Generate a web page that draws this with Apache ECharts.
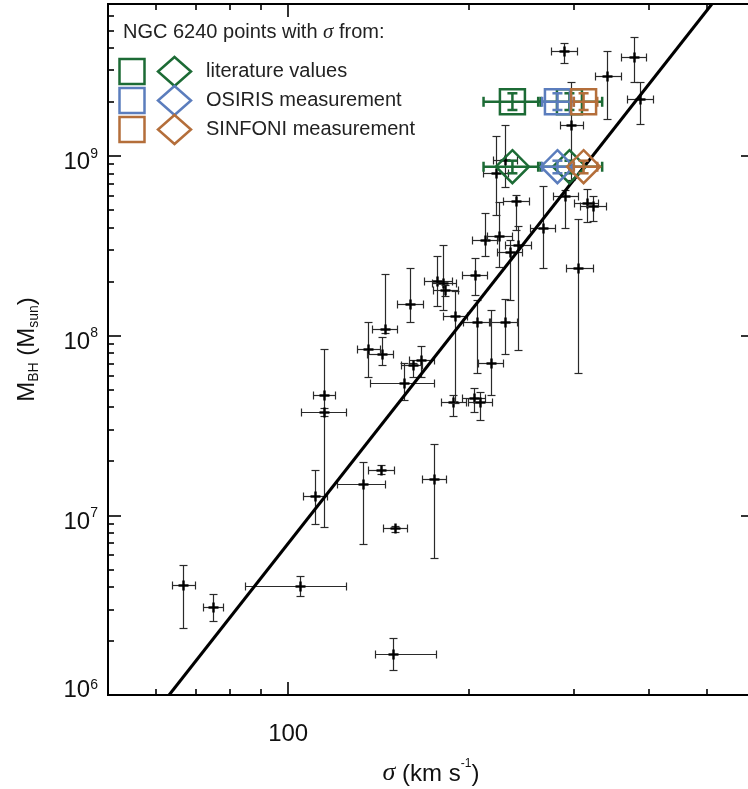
<!DOCTYPE html>
<html>
<head>
<meta charset="utf-8">
<title>M–σ relation with NGC 6240</title>
<script src="https://cdn.jsdelivr.net/npm/echarts@6/dist/echarts.min.js"></script>
<style>
  html, body { margin: 0; padding: 0; background: #fff; }
  #chart { width: 748px; height: 789px; }
</style>
</head>
<body>
<div id="chart"></div>
<script>
// ---- comparison sample: velocity dispersion (km/s) and black-hole mass (Msun), each with its error range
const sigma   = [66.7, 74.9, 104.7, 149.9, 114.9, 114.9, 111.0, 133.4, 143.1, 151.0,
                 175.5, 156.3, 188.8, 204.0, 209.5, 136.0, 145.3, 143.6, 160.0, 166.9,
                 161.8, 177.5, 181.7, 183.1, 190.3, 205.5, 207.0, 218.5, 213.6, 225.4,
                 242.5, 235.1, 229.8, 222.8, 230.6, 240.6, 266.9, 290.5, 316.2, 323.6,
                 305.4, 289.4, 377.5, 341.5, 386.3, 297.3];
const sigmaLo = [64.0, 72.1, 84.7, 139.8, 110.1, 105.1, 106.0, 120.8, 136.0, 144.2,
                 167.5, 137.1, 180.3, 195.4, 200.0, 130.4, 138.2, 135.5, 152.2, 159.3,
                 154.5, 168.8, 174.1, 174.8, 181.7, 195.4, 196.2, 207.8, 203.1, 215.2,
                 230.6, 223.6, 216.9, 211.9, 220.2, 228.9, 253.9, 277.4, 300.8, 307.8,
                 291.6, 275.3, 359.2, 324.9, 368.8, 284.0];
const sigmaHi = [69.9, 77.9, 125.0, 176.8, 119.8, 125.0, 116.2, 145.3, 150.4, 158.1,
                 183.8, 175.5, 198.5, 213.6, 219.4, 142.5, 152.2, 149.9, 168.2, 175.5,
                 167.5, 188.1, 191.0, 192.5, 199.2, 215.2, 217.7, 228.9, 223.6, 236.9,
                 254.9, 246.2, 241.5, 233.3, 241.5, 252.9, 279.5, 305.4, 328.7, 340.2,
                 322.4, 304.2, 395.4, 359.2, 406.1, 311.4];
const mbh     = [4.1e6, 3.09e6, 4.04e6, 1.69e6, 4.67e7, 3.76e7, 1.28e7, 1.49e7, 1.79e7, 8.5e6,
                 1.59e7, 5.45e7, 4.27e7, 4.5e7, 4.27e7, 8.42e7, 1.09e8, 7.9e7, 1.5e8, 7.31e7,
                 6.86e7, 2.01e8, 1.96e8, 1.79e8, 1.29e8, 2.17e8, 1.19e8, 7.04e7, 3.4e8, 3.58e8,
                 3.19e8, 2.92e8, 1.19e8, 8.03e8, 9.49e8, 5.61e8, 3.97e8, 5.98e8, 5.47e8, 5.26e8,
                 2.38e8, 3.83e9, 3.55e9, 2.78e9, 2.07e9, 1.49e9];
const mbhLo   = [2.36e6, 2.58e6, 3.56e6, 1.38e6, 8.61e6, 3.57e7, 8.94e6, 6.92e6, 1.70e7, 8.07e6,
                 5.79e6, 4.38e7, 3.57e7, 3.76e7, 3.39e7, 5.88e7, 1.03e8, 6.86e7, 1.19e8, 5.88e7,
                 5.88e7, 1.46e8, 1.39e8, 1.66e8, 4.22e7, 1.68e8, 6.19e7, 4.67e7, 2.77e8, 2.41e8,
                 8.32e7, 1.58e8, 7.9e7, 4.69e8, 6.71e8, 3.87e8, 2.38e8, 3.97e8, 4.29e8, 4.34e8,
                 6.19e7, 3.29e9, 2.58e9, 1.60e9, 1.50e9, 7.34e8];
const mbhHi   = [5.29e6, 3.65e6, 4.59e6, 2.08e6, 8.42e7, 3.95e7, 1.79e7, 1.98e7, 1.91e7, 8.72e6,
                 2.49e7, 7.04e7, 4.67e7, 5.11e7, 4.85e7, 1.19e8, 2.20e8, 9.82e7, 2.38e8, 8.75e7,
                 7.04e7, 2.77e8, 3.19e8, 1.91e8, 1.77e8, 2.70e8, 1.58e8, 1.39e8, 4.81e8, 5.54e8,
                 4.07e8, 3.4e8, 1.6e8, 1.29e9, 1.49e9, 6.06e8, 6.8e8, 6.46e8, 6.54e8, 5.98e8,
                 4.45e8, 4.25e9, 4.59e9, 3.83e9, 2.58e9, 2.58e9];

// ---- NGC 6240: dispersion estimates by source, and its two mass estimates
const ngcSources  = ['literature', 'literature', 'OSIRIS', 'SINFONI'];
const ngcSigma    = [236.9, 295.0, 281.7, 311.5];
const ngcSigmaLo  = [212.0, 261.6, 265.6, 300.0];
const ngcSigmaHi  = [264.0, 334.6, 300.0, 328.3];
const ngcMass     = [2.0e9, 8.7e8];
const ngcMassLo   = [1.8e9, 8.0e8];
const ngcMassHi   = [2.23e9, 9.4e8];

// ---- legend entries
const legendSources = ['literature', 'OSIRIS', 'SINFONI'];
const legendLabels  = ['literature values', 'OSIRIS measurement', 'SINFONI measurement'];

// ---- M–σ fit: log10(M) = fitA + fitB * log10(σ / fitPivot)
const fitA = 8.12, fitB = 4.24, fitPivot = 200;

// ---- axis ranges and ticks
const sigmaRange  = [50, 600];
const massRange   = [1e6, 7e9];
const xMajorTicks = [100];
const xMinorTicks = [60, 70, 80, 90, 200, 300, 400, 500];
const yMajorTicks = [1e6, 1e7, 1e8, 1e9];
const yMinorTicks = [2e6, 3e6, 4e6, 5e6, 6e6, 7e6, 8e6, 9e6,
                     2e7, 3e7, 4e7, 5e7, 6e7, 7e7, 8e7, 9e7,
                     2e8, 3e8, 4e8, 5e8, 6e8, 7e8, 8e8, 9e8,
                     2e9, 3e9, 4e9, 5e9, 6e9, 7e9];

const FONT  = "'Liberation Sans', Arial, Helvetica, sans-serif";
const SERIF = "'Liberation Serif', 'DejaVu Serif', serif";
const SOURCE_COLORS = { literature: '#1c6b35', OSIRIS: '#5b7dbd', SINFONI: '#b46e3a' };

const chart = echarts.init(document.getElementById('chart'), null, { renderer: 'canvas' });

function xAxisDef(position, ticks, tickLen, labelled) {
  const ax = {
    type: 'log', logBase: 10, min: sigmaRange[0], max: sigmaRange[1], position: position,
    axisLine: { show: true, onZero: false, lineStyle: { color: '#000', width: 2 } },
    axisTick: { show: true, inside: true, length: tickLen, customValues: ticks,
                lineStyle: { color: '#000', width: 1.6 } },
    axisLabel: { show: false },
    splitLine: { show: false }, minorTick: { show: false }, minorSplitLine: { show: false }
  };
  if (labelled) {
    ax.axisLabel = { show: true, customValues: ticks, margin: 27, color: '#111',
                     fontFamily: FONT, fontSize: 24, lineHeight: 24,
                     formatter: v => String(Math.round(v)) };
    ax.name = '{i|σ}{n| (km s}{p|-1}{n|)}';
    ax.nameLocation = 'middle';
    ax.nameGap = 63;
    ax.nameTextStyle = {
      color: '#111', fontFamily: FONT, fontSize: 24,
      rich: {
        i: { fontFamily: SERIF, fontStyle: 'italic', fontSize: 26, lineHeight: 28, verticalAlign: 'bottom', color: '#111' },
        n: { fontFamily: FONT, fontSize: 24, lineHeight: 28, verticalAlign: 'bottom', color: '#111' },
        p: { fontFamily: FONT, fontSize: 12, lineHeight: 14, verticalAlign: 'top', color: '#111' }
      }
    };
  }
  return ax;
}

function yAxisDef(position, ticks, tickLen, labelled) {
  const ax = {
    type: 'log', logBase: 10, min: massRange[0], max: massRange[1], position: position,
    axisLine: { show: true, onZero: false, lineStyle: { color: '#000', width: 2 } },
    axisTick: { show: true, inside: true, length: tickLen, customValues: ticks,
                lineStyle: { color: '#000', width: 1.6 } },
    axisLabel: { show: false },
    splitLine: { show: false }, minorTick: { show: false }, minorSplitLine: { show: false }
  };
  if (labelled) {
    ax.axisLabel = {
      show: true, customValues: ticks, margin: 10, color: '#111', fontFamily: FONT,
      padding: [10, 0, 0, 0],
      formatter: v => {
        const e = Math.round(Math.log10(v));
        return e === 6 ? '{q|\u200a}{b6|10}{s6|' + e + '}' : '{p|\u200a}{b|10}{s|' + e + '}';
      },
      rich: {
        p:  { fontSize: 1, lineHeight: 28 },
        b:  { fontFamily: FONT, fontSize: 24, lineHeight: 20, verticalAlign: 'bottom', color: '#111' },
        s:  { fontFamily: FONT, fontSize: 14, lineHeight: 10, verticalAlign: 'top', color: '#111' },
        q:  { fontSize: 1, lineHeight: 44 },
        b6: { fontFamily: FONT, fontSize: 24, lineHeight: 36, verticalAlign: 'top', color: '#111' },
        s6: { fontFamily: FONT, fontSize: 14, lineHeight: 10, verticalAlign: 'top', color: '#111' }
      }
    };
    ax.name = '{m|M}{b|BH}{m| (M}{b|sun}{m|)}';
    ax.nameLocation = 'middle';
    ax.nameRotate = 90;
    ax.nameGap = 67;
    ax.nameTextStyle = {
      color: '#111', fontFamily: FONT, fontSize: 24,
      rich: {
        m: { fontFamily: FONT, fontSize: 24, lineHeight: 26, verticalAlign: 'top', color: '#111' },
        b: { fontFamily: FONT, fontSize: 14, lineHeight: 14, verticalAlign: 'bottom', color: '#111' }
      }
    };
  }
  return ax;
}

function crisp(v) { return Math.round(v) + 0.5; }
function seg(x1, y1, x2, y2, style) { return { type: 'line', shape: { x1: x1, y1: y1, x2: x2, y2: y2 }, style: style }; }

// black crosses with thin capped error bars
function renderGalaxy(params, api) {
  const s = api.value(0), m = api.value(1);
  const c = api.coord([s, m]);
  const cx = crisp(c[0]), cy = crisp(c[1]);
  const xl = crisp(api.coord([api.value(2), m])[0]);
  const xh = crisp(api.coord([api.value(3), m])[0]);
  const yl = crisp(api.coord([s, api.value(4)])[1]);
  const yh = crisp(api.coord([s, api.value(5)])[1]);
  const thin = { stroke: '#2a2a2a', lineWidth: 1.2 };
  const bold = { stroke: '#000', lineWidth: 2.4 };
  const cap = 4, arm = 5;
  return { type: 'group', children: [
    seg(xl, cy, xh, cy, thin), seg(xl, cy - cap, xl, cy + cap, thin), seg(xh, cy - cap, xh, cy + cap, thin),
    seg(cx, yl, cx, yh, thin), seg(cx - cap, yl, cx + cap, yl, thin), seg(cx - cap, yh, cx + cap, yh, thin),
    seg(cx - arm, cy, cx + arm, cy, bold), seg(cx, cy - arm, cx, cy + arm, bold)
  ]};
}

// NGC 6240: coloured square or diamond with capped error bars
function ngcRenderer(shape) {
  return function (params, api) {
    const s = api.value(0), m = api.value(1);
    const c = api.coord([s, m]);
    const cx = c[0], cy = c[1];
    const xl = api.coord([api.value(2), m])[0];
    const xh = api.coord([api.value(3), m])[0];
    const yl = api.coord([s, api.value(4)])[1];
    const yh = api.coord([s, api.value(5)])[1];
    const color = SOURCE_COLORS[ngcSources[api.value(6)]];
    const st = { stroke: color, lineWidth: 2.5, fill: 'none' };
    const cap = 5;
    const kids = [
      seg(xl, cy, xh, cy, st), seg(xl, cy - cap, xl, cy + cap, st), seg(xh, cy - cap, xh, cy + cap, st),
      seg(cx, yl, cx, yh, st), seg(cx - cap, yl, cx + cap, yl, st), seg(cx - cap, yh, cx + cap, yh, st)
    ];
    if (shape === 'square') {
      kids.push({ type: 'rect', shape: { x: cx - 12.5, y: cy - 12.5, width: 25, height: 25 }, style: st });
    } else {
      const h = 16.5;
      kids.push({ type: 'polygon', shape: { points: [[cx, cy - h], [cx + h, cy], [cx, cy + h], [cx - h, cy]] }, style: st });
    }
    return { type: 'group', children: kids };
  };
}

const galaxyData = sigma.map((s, i) => [s, mbh[i], sigmaLo[i], sigmaHi[i], mbhLo[i], mbhHi[i]]);
const ngcData = k => ngcSigma.map((s, i) => [s, ngcMass[k], ngcSigmaLo[i], ngcSigmaHi[i], ngcMassLo[k], ngcMassHi[k], i]);
const fitSigmaAt = logM => fitPivot * Math.pow(10, (logM - fitA) / fitB);
const fitLine = massRange.map(M => [fitSigmaAt(Math.log10(M)), M]);

// legend drawn as graphics: a square and a diamond per source
const legendGraphics = [{
  type: 'text', z: 100,
  style: { x: 123, y: 32, text: 'NGC 6240 points with {s|σ} from:', fontFamily: FONT, fontSize: 20,
           fill: '#222', verticalAlign: 'middle',
           rich: { s: { fontFamily: SERIF, fontStyle: 'italic', fontSize: 21, fill: '#222' } } }
}];
legendSources.forEach((src, i) => {
  const cy = 71.5 + i * 29;
  const col = SOURCE_COLORS[src];
  legendGraphics.push(
    { type: 'rect', z: 100, shape: { x: 119.5, y: cy - 12.5, width: 25, height: 25 },
      style: { stroke: col, lineWidth: 2.5, fill: 'none' } },
    { type: 'polygon', z: 100, shape: { points: [[174.5, cy - 14.5], [191, cy], [174.5, cy + 14.5], [158, cy]] },
      style: { stroke: col, lineWidth: 2.5, fill: 'none' } },
    { type: 'text', z: 100, style: { x: 206, y: cy, text: legendLabels[i], fontFamily: FONT, fontSize: 20,
      fill: '#222', verticalAlign: 'middle' } }
  );
});

chart.setOption({
  animation: false,
  backgroundColor: '#fff',
  grid: { left: 108, right: -6, top: 4, bottom: 94, containLabel: false, outerBoundsMode: 'none' },
  xAxis: [
    xAxisDef('bottom', xMajorTicks, 13, true),
    xAxisDef('bottom', xMinorTicks, 6, false),
    xAxisDef('top', xMajorTicks, 13, false),
    xAxisDef('top', xMinorTicks, 6, false)
  ],
  yAxis: [
    yAxisDef('left', yMajorTicks, 13, true),
    yAxisDef('left', yMinorTicks, 6, false),
    yAxisDef('right', yMajorTicks, 13, false),
    yAxisDef('right', yMinorTicks, 6, false)
  ],
  series: [
    { type: 'custom', name: 'galaxies', xAxisIndex: 0, yAxisIndex: 0, renderItem: renderGalaxy,
      encode: { x: 0, y: 1 }, data: galaxyData, z: 2 },
    { type: 'line', name: 'fit', xAxisIndex: 0, yAxisIndex: 0, data: fitLine, showSymbol: false,
      symbol: 'none', lineStyle: { color: '#000', width: 3 }, z: 3 },
    { type: 'custom', name: 'NGC 6240 (high mass)', xAxisIndex: 0, yAxisIndex: 0, renderItem: ngcRenderer('square'),
      encode: { x: 0, y: 1 }, data: ngcData(0), z: 4 },
    { type: 'custom', name: 'NGC 6240 (low mass)', xAxisIndex: 0, yAxisIndex: 0, renderItem: ngcRenderer('diamond'),
      encode: { x: 0, y: 1 }, data: ngcData(1), z: 4 }
  ],
  graphic: legendGraphics
});
</script>
</body>
</html>
